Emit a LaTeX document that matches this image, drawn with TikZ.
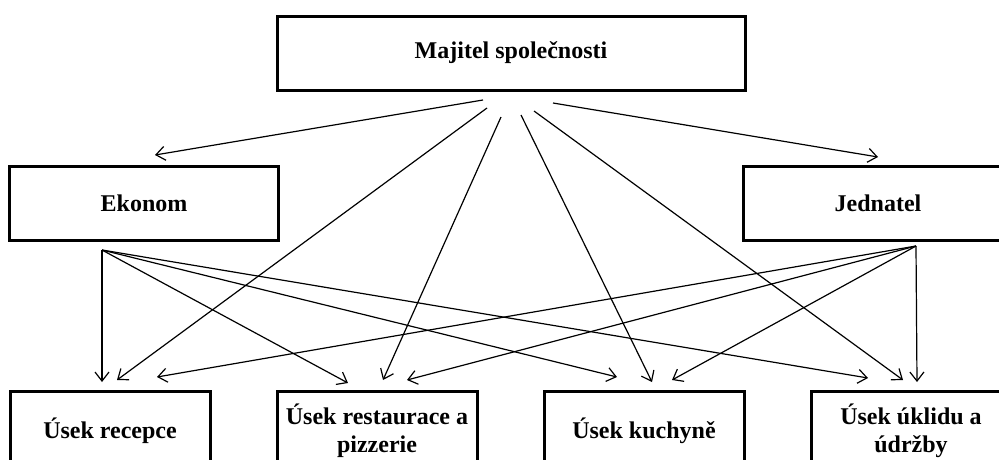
\documentclass[tikz,border=0pt]{standalone}
\usepackage{fontspec}
\setmainfont{Liberation Serif}
\usetikzlibrary{arrows.meta,positioning,calc}
\tikzset{
  box/.style={draw, line width=3pt, align=center, inner sep=2pt,
    font=\bfseries\fontsize{24}{28}\selectfont, minimum height=74pt},
  headbox/.style={box, minimum width=468pt},
  staffbox/.style={box, minimum width=269pt},
  unitbox/.style={box, minimum width=200pt, minimum height=80pt},
  arrow/.style={-{Straight Barb[length=9pt,width=14pt]}, line width=1.2pt},
}

\begin{document}
\begin{tikzpicture}[x=1pt, y=-1pt, node distance=64pt]
  \useasboundingbox (0,0) rectangle (999,459);
  \clip (0,0) rectangle (999,459);

  \node[headbox] (majitel) at (511,53) {Majitel společnosti};
  \node[staffbox] (ekonom) at (144,203) {Ekonom};
  \node[staffbox] (jednatel) at (878,203) {Jednatel};

  \node[unitbox] (recepce) at (110,431) {Úsek recepce};
  \node[unitbox, right=of recepce] (restaurace) {Úsek restaurace a\\pizzerie};
  \node[unitbox, right=of restaurace] (kuchyne) {Úsek kuchyně};
  \node[unitbox, right=of kuchyne] (uklid) {Úsek úklidu a\\údržby};

  % start points under the boxes
  \coordinate (m1) at (483,100);
  \coordinate (m2) at (487,108);
  \coordinate (m3) at (501,117);
  \coordinate (m4) at (521,115);
  \coordinate (m5) at (534,111);
  \coordinate (m6) at (553,103);
  \coordinate (e0) at (102,250);
  \coordinate (j0) at (916,246);

  % arrow ends above the boxes
  \coordinate (ekonomIn) at (155,155);
  \coordinate (jednatelIn) at (878,157);
  \coordinate (recepceE) at (102,382);
  \coordinate (recepceM) at (117,380);
  \coordinate (recepceJ) at (157,377);
  \coordinate (restauraceE) at (348,383);
  \coordinate (restauraceM) at (383,380);
  \coordinate (restauraceJ) at (407,380);
  \coordinate (kuchyneE) at (617,377);
  \coordinate (kuchyneM) at (652,382);
  \coordinate (kuchyneJ) at (672,380);
  \coordinate (uklidE) at (868,378);
  \coordinate (uklidM) at (903,380);
  \coordinate (uklidJ) at (917,382);

  \draw[arrow] (m1) -- (ekonomIn);
  \draw[arrow] (m2) -- (recepceM);
  \draw[arrow] (m3) -- (restauraceM);
  \draw[arrow] (m4) -- (kuchyneM);
  \draw[arrow] (m5) -- (uklidM);
  \draw[arrow] (m6) -- (jednatelIn);

  \foreach \t in {recepceE,restauraceE,kuchyneE,uklidE}
    \draw[arrow] (e0) -- (\t);
  \foreach \t in {recepceJ,restauraceJ,kuchyneJ,uklidJ}
    \draw[arrow] (j0) -- (\t);
\end{tikzpicture}
\end{document}
